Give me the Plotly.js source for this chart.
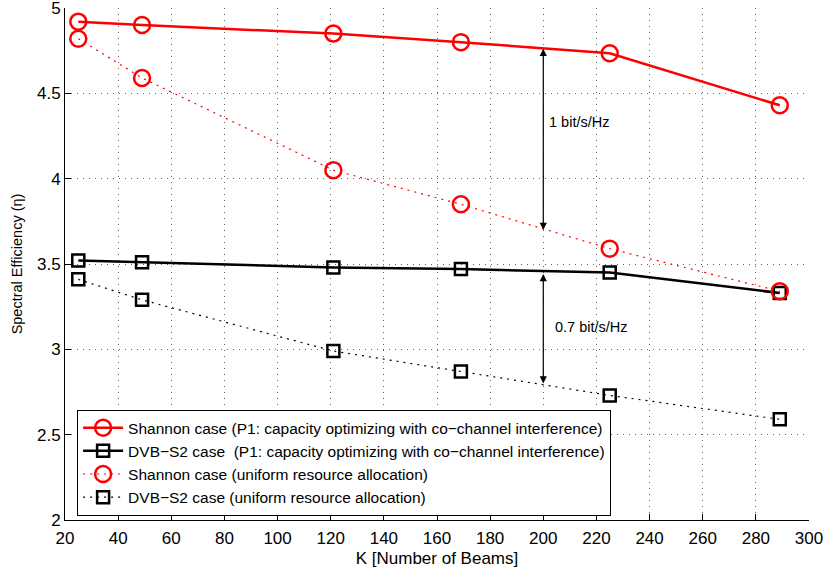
<!DOCTYPE html>
<html>
<head>
<meta charset="utf-8">
<script src="https://cdn.plot.ly/plotly-3.0.1.min.js"></script>
<style>
  html, body { margin: 0; padding: 0; background: #fff; }
  #chart { width: 824px; height: 571px; }
</style>
</head>
<body>
<div id="chart"></div>
<script>
// Number of beams K
const beams = [25, 49, 121, 169, 225, 289];

// Spectral efficiency (bit/s/Hz) per scheme
const shannonP1 = [4.92, 4.90, 4.85, 4.80, 4.735, 4.43];
const dvbP1 = [3.52, 3.51, 3.48, 3.47, 3.45, 3.33];
const shannonUniform = [4.82, 4.59, 4.05, 3.85, 3.59, 3.34];
const dvbUniform = [3.41, 3.29, 2.99, 2.87, 2.73, 2.59];

const seriesNames = [
  'Shannon case (P1: capacity optimizing with co\u2212channel interference)',
  'DVB\u2212S2 case  (P1: capacity optimizing with co\u2212channel interference)',
  'Shannon case (uniform resource allocation)',
  'DVB\u2212S2 case (uniform resource allocation)'
];

// Gap markers between optimized and uniform allocation
const gapX = [200, 200];
const gapTop = [4.77, 3.45];
const gapBottom = [3.70, 2.80];
const gapLabels = ['1 bit/s/Hz', '0.7 bit/s/Hz'];
const gapLabelY = [4.33, 3.13];

const xTicks = [20, 40, 60, 80, 100, 120, 140, 160, 180, 200, 220, 240, 260, 280, 300];
const yTicks = [2, 2.5, 3, 3.5, 4, 4.5, 5];

const font = 'Liberation Sans, Arial, Helvetica, sans-serif';
const sparseDot = '2px,5px';

const traces = [
  {
    x: beams, y: shannonP1, name: seriesNames[0], mode: 'lines+markers',
    line: { color: '#ff0000', width: 2.5 },
    marker: { symbol: 'circle-open', size: 16, color: '#ff0000', line: { width: 2.5 } }
  },
  {
    x: beams, y: dvbP1, name: seriesNames[1], mode: 'lines+markers',
    line: { color: '#000000', width: 2.5 },
    marker: { symbol: 'square-open', size: 12, color: '#000000', line: { width: 2.5 } }
  },
  {
    x: beams, y: shannonUniform, name: seriesNames[2], mode: 'lines+markers',
    line: { color: '#ff0000', width: 1.2, dash: sparseDot },
    marker: { symbol: 'circle-open', size: 16, color: '#ff0000', line: { width: 2.5 } }
  },
  {
    x: beams, y: dvbUniform, name: seriesNames[3], mode: 'lines+markers',
    line: { color: '#000000', width: 1.2, dash: sparseDot },
    marker: { symbol: 'square-open', size: 12, color: '#000000', line: { width: 2.5 } }
  }
];

const annotations = [];
for (let i = 0; i < gapX.length; i++) {
  annotations.push({
    x: gapX[i], y: gapBottom[i], ax: gapX[i], ay: gapTop[i],
    xref: 'x', yref: 'y', axref: 'x', ayref: 'y',
    text: '', showarrow: true, arrowside: 'end+start',
    arrowhead: 2, startarrowhead: 2, arrowsize: 1.2, startarrowsize: 1.2,
    arrowwidth: 1.2, arrowcolor: '#000'
  });
  annotations.push({
    x: gapX[i] + (i === 0 ? 1.5 : 3.5), y: gapLabelY[i], xref: 'x', yref: 'y',
    text: gapLabels[i], showarrow: false, xanchor: 'left', yanchor: 'middle',
    font: { family: font, size: 14.5, color: '#000' }
  });
}

const axisStyle = {
  showline: true, linecolor: '#000', linewidth: 1, mirror: false,
  ticks: 'inside', ticklen: 6, tickcolor: '#000', tickwidth: 1,
  showgrid: true, gridcolor: '#666', griddash: '1px,5px', gridwidth: 1,
  zeroline: false, ticklabeloverflow: 'allow',
  tickfont: { family: font, size: 17, color: '#000' }
};

const layout = {
  width: 824, height: 571,
  margin: { l: 65, r: 15, t: 8, b: 51 },
  paper_bgcolor: '#fff', plot_bgcolor: '#fff',
  font: { family: font, color: '#000' },
  showlegend: true,
  legend: {
    x: 0.016, y: 0.008, xanchor: 'left', yanchor: 'bottom',
    bgcolor: '#fff', bordercolor: '#000', borderwidth: 1.2,
    font: { family: font, size: 15.5, color: '#000' },
    itemwidth: 40, tracegroupgap: 0
  },
  xaxis: Object.assign({}, axisStyle, {
    range: [20, 300], tickvals: xTicks, ticklabelstandoff: 3,
    title: { text: 'K [Number of Beams]', font: { family: font, size: 17, color: '#000' }, standoff: 4 }
  }),
  yaxis: Object.assign({}, axisStyle, {
    range: [2, 5], tickvals: yTicks,
    title: { text: 'Spectral Efficiency (\u03b7)', font: { family: font, size: 14.5, color: '#000' }, standoff: 10 }
  }),
  annotations: annotations
};

Plotly.newPlot('chart', traces, layout, { displayModeBar: false, staticPlot: true });
</script>
</body>
</html>
